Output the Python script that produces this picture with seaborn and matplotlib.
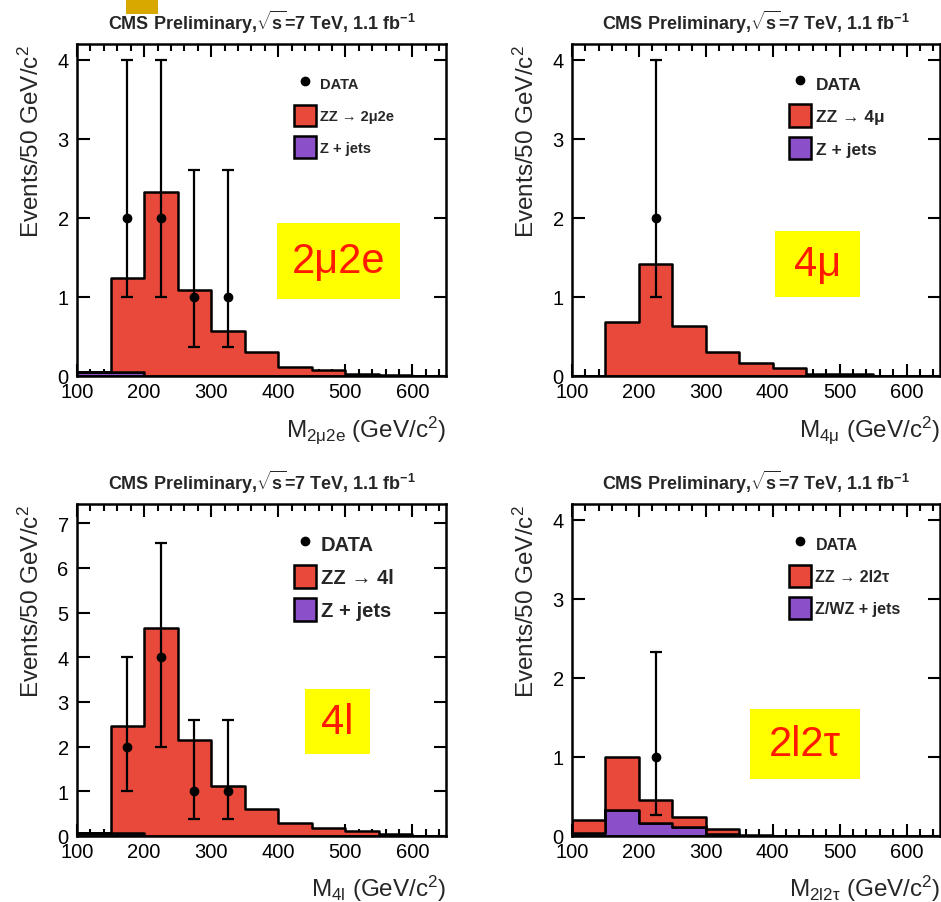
import numpy as np
import pandas as pd
import matplotlib
matplotlib.use("Agg")
import matplotlib.pyplot as plt
import seaborn as sns
from matplotlib.patches import Rectangle, Patch
from matplotlib.lines import Line2D
from matplotlib.ticker import MultipleLocator

# ---------------- data ----------------
bin_edges = [100, 150, 200, 250, 300, 350, 400, 450, 500, 550, 600, 650]
bin_centers = [125, 175, 225, 275, 325, 375, 425, 475, 525, 575, 625]

# 2mu2e
zz_2mu2e = [0.0, 1.19, 2.33, 1.09, 0.57, 0.30, 0.12, 0.07, 0.02, 0.01, 0.005]
zj_2mu2e = [0.05, 0.05, 0, 0, 0, 0, 0, 0, 0, 0, 0]
data_x_2mu2e = [175, 225, 275, 325]
data_y_2mu2e = [2, 2, 1, 1]
data_lo_2mu2e = [1.0, 1.0, 0.37, 0.37]
data_hi_2mu2e = [4.0, 4.0, 2.6, 2.6]

# 4mu
zz_4mu = [0.0, 0.68, 1.42, 0.63, 0.30, 0.16, 0.10, 0.03, 0.03, 0.0, 0.0]
zj_4mu = [0, 0, 0, 0, 0, 0, 0, 0, 0, 0, 0]
data_x_4mu = [225]
data_y_4mu = [2]
data_lo_4mu = [1.0]
data_hi_4mu = [4.0]

# 4l
zz_4l = [0.0, 2.40, 4.66, 2.14, 1.12, 0.60, 0.28, 0.17, 0.12, 0.05, 0.0]
zj_4l = [0.07, 0.07, 0, 0, 0, 0, 0, 0, 0, 0, 0]
data_x_4l = [175, 225, 275, 325]
data_y_4l = [2, 4, 1, 1]
data_lo_4l = [1.0, 2.0, 0.37, 0.37]
data_hi_4l = [4.0, 6.55, 2.6, 2.6]

# 2l2tau
zz_2l2t = [0.16, 0.67, 0.30, 0.13, 0.06, 0.01, 0, 0, 0, 0, 0]
zj_2l2t = [0.04, 0.33, 0.16, 0.11, 0.03, 0, 0, 0, 0, 0, 0]
data_x_2l2t = [225]
data_y_2l2t = [1]
data_lo_2l2t = [0.27]
data_hi_2l2t = [2.33]

titles = r"CMS Preliminary,$\mathbf{\sqrt{s}}$=7 TeV, 1.1 fb$^{\mathbf{-1}}$"
xlabels = [r"M$_{\mathrm{2μ2e}}$ (GeV/c$^{2}$)", r"M$_{\mathrm{4μ}}$ (GeV/c$^{2}$)",
           r"M$_{\mathrm{4l}}$ (GeV/c$^{2}$)", r"M$_{\mathrm{2l2τ}}$ (GeV/c$^{2}$)"]
zz_labels = ["ZZ → 2μ2e", "ZZ → 4μ", "ZZ → 4l", "ZZ → 2l2τ"]
zj_labels = ["Z + jets", "Z + jets", "Z + jets", "Z/WZ + jets"]
tags = ["2μ2e", "4μ", "4l", "2l2τ"]

RED = "#E8493A"
PURPLE = "#8A4FC9"

# ---------------- style ----------------
sns.set_theme(style="ticks")
plt.rcParams["font.family"] = ["Liberation Sans", "DejaVu Sans"]
plt.rcParams["mathtext.fontset"] = "custom"
plt.rcParams["mathtext.rm"] = "Liberation Sans"
plt.rcParams["mathtext.it"] = "Liberation Sans:italic"
plt.rcParams["mathtext.bf"] = "Liberation Sans:bold"

W, H = 941, 903
fig = plt.figure(figsize=(W / 100, H / 100), dpi=100)

def px_axes(l, t, r, b):
    return [l / W, 1 - b / H, (r - l) / W, (b - t) / H]

panels = [
    dict(rect=px_axes(77, 45, 446, 377), zz=zz_2mu2e, zj=zj_2mu2e, dx=data_x_2mu2e, dy=data_y_2mu2e,
         dlo=data_lo_2mu2e, dhi=data_hi_2mu2e, ymax=4.2, yt=[0, 1, 2, 3, 4], lfs=10.5,
         leg=(0.588, 0.913), box=(277, 224, 400, 300), tfs=30),
    dict(rect=px_axes(572, 45, 940, 377), zz=zz_4mu, zj=zj_4mu, dx=data_x_4mu, dy=data_y_4mu,
         dlo=data_lo_4mu, dhi=data_hi_4mu, ymax=4.2, yt=[0, 1, 2, 3, 4], lfs=12.5,
         leg=(0.591, 0.916), box=(775, 232, 860, 298), tfs=30),
    dict(rect=px_axes(77, 505, 446, 837), zz=zz_4l, zj=zj_4l, dx=data_x_4l, dy=data_y_4l,
         dlo=data_lo_4l, dhi=data_hi_4l, ymax=7.43, yt=[0, 1, 2, 3, 4, 5, 6, 7], lfs=14.5,
         leg=(0.588, 0.916), box=(305, 690, 370, 755), tfs=30),
    dict(rect=px_axes(572, 505, 940, 837), zz=zz_2l2t, zj=zj_2l2t, dx=data_x_2l2t, dy=data_y_2l2t,
         dlo=data_lo_2l2t, dhi=data_hi_2l2t, ymax=4.2, yt=[0, 1, 2, 3, 4], lfs=11.5,
         leg=(0.591, 0.913), box=(750, 710, 860, 780), tfs=30),
]

for i, p in enumerate(panels):
    ax = fig.add_axes(p["rect"])
    df = pd.DataFrame({
        "mass": bin_centers + bin_centers,
        "w": list(p["zz"]) + list(p["zj"]),
        "proc": ["ZZ"] * len(bin_centers) + ["Zjets"] * len(bin_centers),
    })
    sns.histplot(data=df, x="mass", weights="w", hue="proc", hue_order=["ZZ", "Zjets"],
                 multiple="stack", bins=bin_edges, element="step", fill=True,
                 palette={"ZZ": RED, "Zjets": PURPLE}, edgecolor="black", linewidth=1.8,
                 alpha=1, legend=False, ax=ax)
    dy = np.array(p["dy"], float)
    yerr = [dy - np.array(p["dlo"]), np.array(p["dhi"]) - dy]
    ax.errorbar(p["dx"], dy, yerr=yerr, fmt="o", color="black", ms=6, capsize=4,
                elinewidth=1.6, capthick=1.6, zorder=5)

    ax.set_xlim(100, 650)
    ax.set_ylim(0, p["ymax"])
    ax.xaxis.set_major_locator(MultipleLocator(100))
    ax.xaxis.set_minor_locator(MultipleLocator(20))
    ax.set_yticks(p["yt"])
    ax.tick_params(axis="both", which="both", direction="in", top=True, right=True,
                   labelsize=14.5, colors="black", width=1.5)
    ax.tick_params(axis="both", which="major", length=9, pad=4)
    ax.tick_params(axis="y", which="major", pad=6)
    ax.tick_params(axis="x", which="minor", length=5)
    ax.tick_params(axis="y", which="minor", length=0)
    for s in ax.spines.values():
        s.set_linewidth(1.8)
        s.set_color("black")
    ax.set_xlabel(xlabels[i], loc="right", fontsize=17.5, labelpad=9)
    ax.set_ylabel(r"Events/50 GeV/c$^{2}$", loc="top", fontsize=17.5, labelpad=10)
    ax.set_title(titles, fontsize=13, fontweight="bold", pad=11)

    handles = [
        Line2D([], [], marker="o", color="black", ls="none", ms=6),
        Patch(facecolor=RED, edgecolor="black", linewidth=1.8),
        Patch(facecolor=PURPLE, edgecolor="black", linewidth=1.8),
    ]
    fs_px = p["lfs"] * 100 / 72
    ax.legend(handles, ["DATA", zz_labels[i], zj_labels[i]], loc="upper left",
              bbox_to_anchor=p["leg"], frameon=False, borderpad=0, borderaxespad=0,
              handlelength=22 / fs_px, handleheight=28 / fs_px,
              labelspacing=10 / fs_px, handletextpad=0.25,
              prop={"size": p["lfs"], "weight": "bold"})

    l, t, r, b = p["box"]
    fig.patches.append(Rectangle((l / W, 1 - b / H), (r - l) / W, (b - t) / H,
                                 transform=fig.transFigure, facecolor="#FFFF00",
                                 edgecolor="none", zorder=10))
    fig.text((l + r) / 2 / W, 1 - (t + b) / 2 / H, tags[i], color="#FF1A00",
             fontsize=p["tfs"], ha="center", va="center", zorder=11)

# small marker square at top
fig.patches.append(Rectangle((126 / W, 1 - 15 / H), 32 / W, 15 / H, transform=fig.transFigure,
                             facecolor="#D8A800", edgecolor="none"))

fig.savefig("out.png", dpi=100)
